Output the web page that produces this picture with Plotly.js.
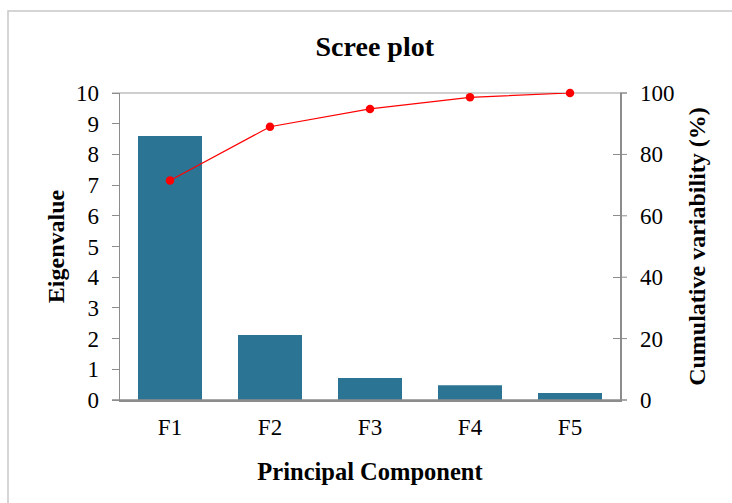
<!DOCTYPE html>
<html>
<head>
<meta charset="utf-8">
<script src="https://cdn.plot.ly/plotly-3.0.1.min.js"></script>
<style>html,body{margin:0;padding:0;background:#fff;}#chart{width:732px;height:503px;}</style>
</head>
<body>
<div id="chart"></div>
<script>
const categories = ["F1", "F2", "F3", "F4", "F5"];
const eigenvalues = [8.6, 2.12, 0.72, 0.48, 0.23];
const cumulative = [71.5, 89.0, 94.8, 98.6, 100];
const leftTicks = [0, 1, 2, 3, 4, 5, 6, 7, 8, 9, 10];
const rightTicks = [0, 20, 40, 60, 80, 100];

const font = "Liberation Serif, Times New Roman, serif";

const traces = [
  {
    type: "bar", x: categories, y: eigenvalues, yaxis: "y",
    marker: {color: "#2c7494"}, hoverinfo: "x+y"
  },
  {
    type: "scatter", mode: "lines+markers", x: categories, y: cumulative, yaxis: "y2",
    line: {color: "#ff0000", width: 1.2},
    marker: {color: "#ff0000", size: 8.5},
    cliponaxis: false
  }
];

const layout = {
  width: 732, height: 503,
  margin: {l: 120, r: 112, t: 93, b: 103},
  paper_bgcolor: "#fff", plot_bgcolor: "#fff",
  showlegend: false,
  bargap: 0.36,
  font: {family: font, color: "#000", size: 23},
  title: {text: "<b>Scree plot</b>", font: {family: font, size: 28, color: "#000"}, x: 0.512, xanchor: "center", y: 0.908, yanchor: "middle"},
  xaxis: {
    type: "category", showline: true, linecolor: "#8c8c8c", linewidth: 1.5,
    ticks: "", tickfont: {family: font, size: 23}, ticklabelstandoff: 6,
    title: {text: "<b>Principal Component</b>", font: {family: font, size: 24.5}, standoff: 24},
    fixedrange: true
  },
  yaxis: {
    range: [0, 10], tickvals: leftTicks, ticks: "outside", ticklen: 7, tickcolor: "#8c8c8c",
    showline: true, linecolor: "#8c8c8c", linewidth: 1.5,
    showgrid: false, zeroline: false,
    tickfont: {family: font, size: 23}, ticklabelstandoff: 8,
    title: {text: "<b>Eigenvalue</b>", font: {family: font, size: 24}, standoff: 4},
    fixedrange: true
  },
  yaxis2: {
    range: [0, 100], tickvals: rightTicks, overlaying: "y", side: "right",
    ticks: "inside", ticklen: 7, tickcolor: "#8c8c8c",
    showline: true, linecolor: "#8c8c8c", linewidth: 1.5,
    showgrid: false, zeroline: false,
    tickfont: {family: font, size: 23}, ticklabelstandoff: 14,
    title: {text: "<b>Cumulative variability (%)</b>", font: {family: font, size: 24}, standoff: 14},
    fixedrange: true
  },
  shapes: [
    {type: "line", xref: "paper", yref: "paper", x0: -0.016, x1: 1.0, y0: 1, y1: 1, line: {color: "#bfbfbf", width: 1.5}, layer: "below"},
    {type: "line", xref: "paper", yref: "paper", x0: 1.0, x1: 1.014, y0: 1, y1: 1, line: {color: "#8c8c8c", width: 1.5}},
    {type: "line", xref: "paper", yref: "paper", x0: -0.016, x1: 1.014, y0: 0, y1: 0, line: {color: "#8c8c8c", width: 1.5}},
    {type: "line", xref: "paper", yref: "paper", x0: 1.0, x1: 1.014, y0: 0.2, y1: 0.2, line: {color: "#8c8c8c", width: 1}},
    {type: "line", xref: "paper", yref: "paper", x0: 1.0, x1: 1.014, y0: 0.4, y1: 0.4, line: {color: "#8c8c8c", width: 1}},
    {type: "line", xref: "paper", yref: "paper", x0: 1.0, x1: 1.014, y0: 0.6, y1: 0.6, line: {color: "#8c8c8c", width: 1}},
    {type: "line", xref: "paper", yref: "paper", x0: 1.0, x1: 1.014, y0: 0.8, y1: 0.8, line: {color: "#8c8c8c", width: 1}},
    {type: "rect", xref: "paper", yref: "paper", x0: -0.224, x1: 1.6, y0: -0.5, y1: 1.267, line: {color: "#c8c8c8", width: 1.5}, fillcolor: "rgba(0,0,0,0)"}
  ]
};

Plotly.newPlot("chart", traces, layout, {displayModeBar: false, staticPlot: true});
</script>
</body>
</html>
